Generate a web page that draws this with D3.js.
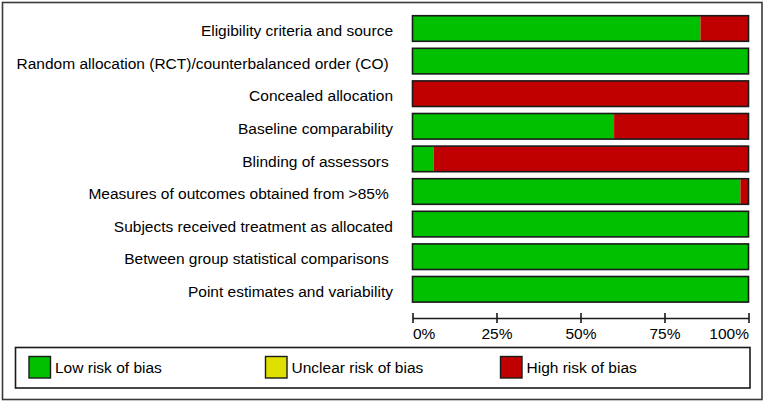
<!DOCTYPE html>
<html>
<head>
    <meta charset="utf-8" />
    <script src="https://d3js.org/d3.v7.min.js"></script>
    <style>
        body { margin: 0; background: #fff; }
        text { font-family: "Liberation Sans", Arial, sans-serif; font-size: 15.5px; fill: #000; white-space: pre; }
    </style>
</head>
<body>
    <script>
        // risk of bias summary, percent of studies per item
        var categories = [
            "Eligibility criteria and source",
            "Random allocation (RCT)/counterbalanced order (CO) ",
            "Concealed allocation",
            "Baseline comparability",
            "Blinding of assessors ",
            "Measures of outcomes obtained from >85% ",
            "Subjects received treatment as allocated",
            "Between group statistical comparisons ",
            "Point estimates and variability"
        ];
        var lowRisk = [85.7, 100, 0, 60, 6.25, 97.6, 100, 100, 100];
        var unclearRisk = [0, 0, 0, 0, 0, 0, 0, 0, 0];
        var highRisk = [14.3, 0, 100, 40, 93.75, 2.4, 0, 0, 0];
        var tickValues = [0, 25, 50, 75, 100];
        var legendLabels = ["Low risk of bias", "Unclear risk of bias", "High risk of bias"];
        var colors = ["#00c000", "#e0e000", "#c00000"];

        var width = 765, height = 403;

        var svg = d3.select("body").append("svg")
            .attr("width", width)
            .attr("height", height);

        // outer frame
        svg.append("rect")
            .attr("x", 2.5).attr("y", 2.5)
            .attr("width", 759.5).attr("height", 397)
            .attr("fill", "none")
            .attr("stroke", "#3a3a3a")
            .attr("stroke-width", 1.6);

        var x = d3.scaleLinear().domain([0, 100]).range([412.5, 748.5]);
        var y = d3.scaleBand().domain(categories).range([8.7, 309.1]).padding(0.215);

        var rows = categories.map(function (c, i) {
            return { cat: c, low: lowRisk[i], unclear: unclearRisk[i], high: highRisk[i] };
        });
        var stack = d3.stack().keys(["low", "unclear", "high"]);
        var series = stack(rows);

        var g = svg.append("g");
        g.selectAll("g.series")
            .data(series)
            .enter().append("g")
            .attr("class", "series")
            .attr("fill", function (d, i) { return colors[i]; })
            .selectAll("rect")
            .data(function (d) { return d; })
            .enter().append("rect")
            .attr("x", function (d) { return x(d[0]); })
            .attr("y", function (d) { return y(d.data.cat); })
            .attr("width", function (d) { return x(d[1]) - x(d[0]); })
            .attr("height", y.bandwidth());

        // bar outlines
        g.selectAll("rect.outline")
            .data(categories)
            .enter().append("rect")
            .attr("class", "outline")
            .attr("x", x(0))
            .attr("y", function (d) { return y(d); })
            .attr("width", x(100) - x(0))
            .attr("height", y.bandwidth())
            .attr("fill", "none")
            .attr("stroke", "#1a1a1a")
            .attr("stroke-width", 1.6);

        // labels
        svg.selectAll("text.cat")
            .data(categories)
            .enter().append("text")
            .attr("class", "cat")
            .attr("x", 393)
            .attr("y", function (d) { return y(d) + y.bandwidth() / 2; })
            .attr("dy", "0.5em")
            .attr("text-anchor", "end")
            .text(function (d) { return d; });

        // x axis
        var axisY = 318;
        var axis = d3.axisBottom(x)
            .tickValues(tickValues)
            .tickSize(0)
            .tickFormat(function (d) { return d + "%"; });
        var ax = svg.append("g")
            .attr("transform", "translate(0," + axisY + ")")
            .call(axis);
        ax.select(".domain").attr("stroke", "#1a1a1a").attr("stroke-width", 1.6);
        ax.selectAll(".tick line")
            .attr("y1", -5).attr("y2", 5)
            .attr("stroke", "#1a1a1a").attr("stroke-width", 1.6);
        ax.selectAll(".tick text")
            .attr("y", 21).attr("dy", 0)
            .attr("font-size", null)
            .attr("font-family", null)
            .attr("text-anchor", function (d, i) { return i === 0 ? "start" : (i === tickValues.length - 1 ? "end" : "middle"); });

        // legend
        svg.append("rect")
            .attr("x", 15.5).attr("y", 347.5)
            .attr("width", 734.5).attr("height", 40.5)
            .attr("fill", "none")
            .attr("stroke", "#1a1a1a")
            .attr("stroke-width", 1.6);

        var legendX = [29, 265.5, 500.5];
        var lg = svg.selectAll("g.legend")
            .data(legendLabels)
            .enter().append("g")
            .attr("class", "legend")
            .attr("transform", function (d, i) { return "translate(" + legendX[i] + ",356.5)"; });
        lg.append("rect")
            .attr("width", 21.5).attr("height", 21.5)
            .attr("fill", function (d, i) { return colors[i]; })
            .attr("stroke", "#1a1a1a")
            .attr("stroke-width", 1.4);
        lg.append("text")
            .attr("x", 26)
            .attr("y", 16.5)
            .text(function (d) { return d; });
    </script>
</body>
</html>
